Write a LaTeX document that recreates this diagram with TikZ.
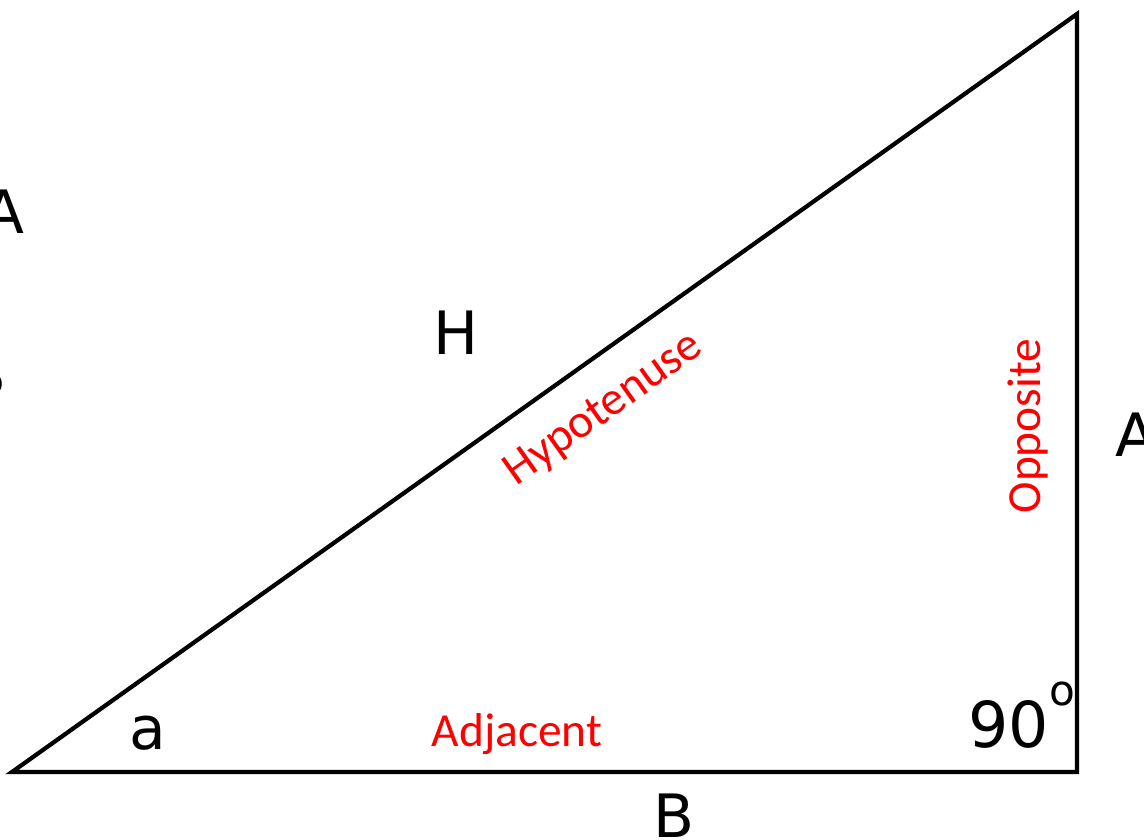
\documentclass[tikz,border=0pt]{standalone}
\usepackage{fontspec}
\setmainfont{Carlito}
\newfontfamily\handfont{DejaVu Sans}
\tikzset{
  hand/.style={font=\handfont\fontsize{17}{19}\selectfont, inner sep=0pt},
  side/.style={font=\fontsize{13.5}{15}\selectfont, text=red, inner sep=0pt}
}
\begin{document}
\begin{tikzpicture}[x=0.01cm,y=-0.01cm]
\useasboundingbox (0,0) rectangle (1144,840);
\coordinate (pa) at (12,772);
\coordinate (pb) at (1077,772);
\coordinate (pc) at (1077,14);
\draw[line width=1.2pt] (pa) -- (pb) -- (pc) -- cycle;
% side names
\node[side] (hyp) at (604,410) [rotate=35.4] {Hypotenuse};
\node[side] (opp) at (1028,426) [rotate=90] {Opposite};
\node[side] (adj) at (517,734) {Adjacent};
% letters
\node[hand] (h) at (456,333) {H};
\node[hand] (ang) at (148,733) {a};
\node[hand, anchor=base west] (rt) at (968,748) {\fontsize{18}{20}\selectfont 90\raisebox{12pt}{\fontsize{12}{12}\selectfont o}};
\node[hand] (bb) at (674,816) {B};
\node[hand] (al) at (4,212) {A};
\node[hand] (bl) at (-14,375) {B};
\node[hand] (ar) at (1136,435) {A};
\end{tikzpicture}
\end{document}
